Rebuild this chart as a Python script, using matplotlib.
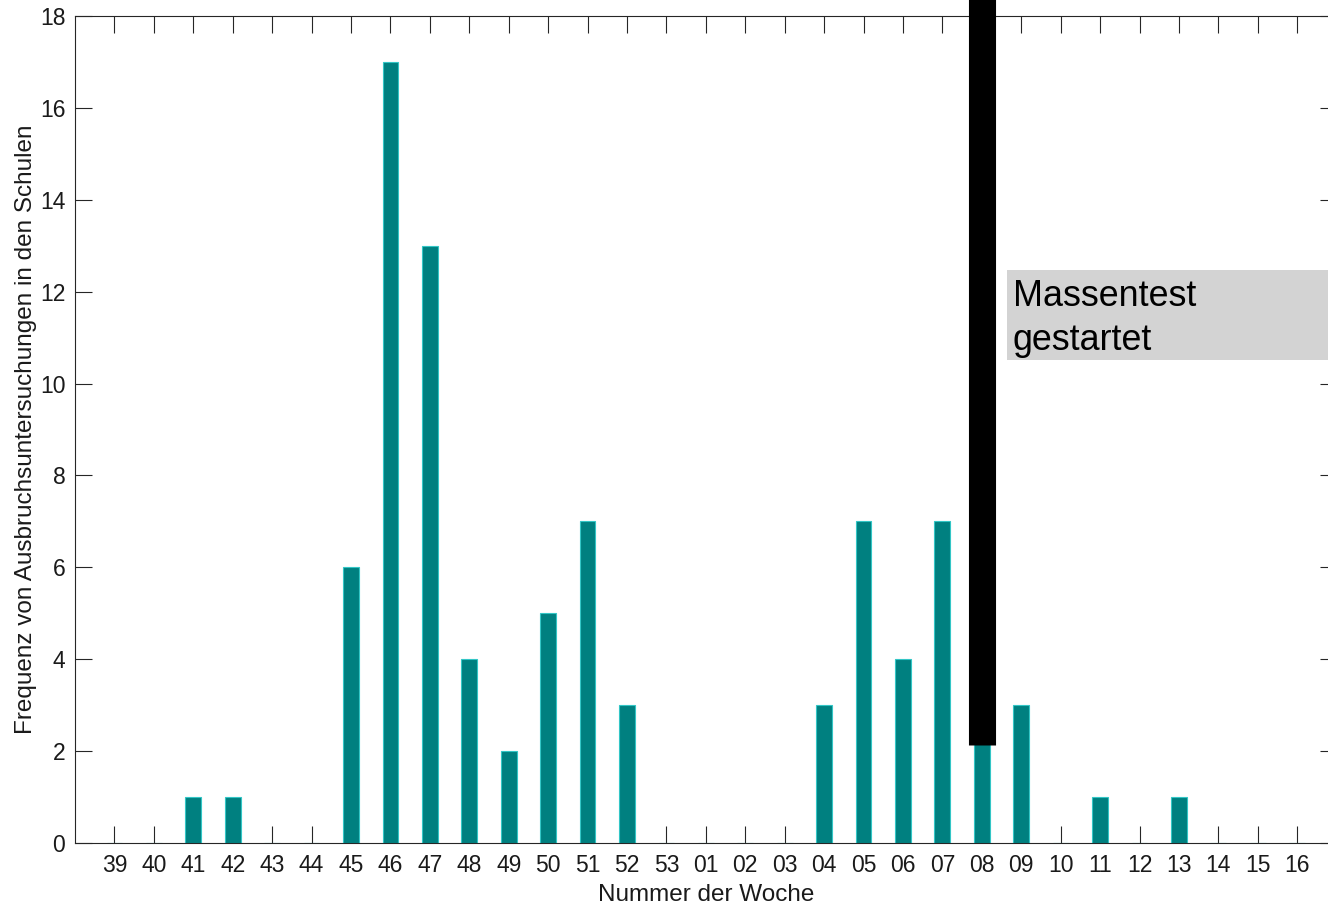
import numpy as np
import matplotlib
matplotlib.use("Agg")
import matplotlib.pyplot as plt
from matplotlib.patches import Rectangle

plt.rcParams['font.family'] = ['Liberation Sans', 'DejaVu Sans']

# Daten
wochen = ['39', '40', '41', '42', '43', '44', '45', '46', '47', '48', '49', '50',
          '51', '52', '53', '01', '02', '03', '04', '05', '06', '07', '08', '09',
          '10', '11', '12', '13', '14', '15', '16']
frequenz = [0, 0, 1, 1, 0, 0, 6, 17, 13, 4, 2, 5, 7, 3, 0, 0, 0, 0, 3, 7, 4, 7,
            3, 3, 0, 1, 0, 1, 0, 0, 0]
start_woche = '08'
start_unten = 2.13

fig = plt.figure(figsize=(13.28, 9.08), dpi=100)
ax = fig.add_axes([0.0565, 0.0716, 0.95, 0.9108])

x = np.arange(len(wochen))
ax.bar(x, frequenz, width=0.4, color='#008080', edgecolor='#33c6c6', linewidth=0.8, zorder=2)

ax.set_xlim(-1, len(wochen))
ax.set_ylim(0, 18)
ax.set_xticks(x)
ax.set_xticklabels(wochen)
ax.set_yticks(np.arange(0, 19, 2))

achsenfarbe = '#262626'
for s in ax.spines.values():
    s.set_color(achsenfarbe)
    s.set_linewidth(0.8)
ax.tick_params(direction='in', length=12, width=0.8, color=achsenfarbe,
               top=True, right=True, labelsize=16.5, labelcolor='#1a1a1a')
ax.tick_params(axis='x', pad=8)
ax.tick_params(axis='y', pad=7)

ax.set_xlabel('Nummer der Woche', fontsize=17.5, color='#1a1a1a', labelpad=5)
ax.set_ylabel('Frequenz von Ausbruchsuntersuchungen in den Schulen', fontsize=17.5,
              color='#1a1a1a', labelpad=2)

# Massentest-Linie
xs = wochen.index(start_woche)
ax.plot([xs, xs], [start_unten, 19.5], color='black', linewidth=19.5,
        solid_capstyle='butt', clip_on=False, zorder=3)

# Textfeld
ax.add_patch(Rectangle((xs + 0.65, 10.51), 10, 1.96, facecolor='#d3d3d3',
                       edgecolor='none', clip_on=False, zorder=3))
ax.text(xs + 0.78, 11.42, 'Massentest\ngestartet', fontsize=25.8, va='center',
        ha='left', linespacing=1.32, zorder=4)

fig.savefig('out.png', dpi=100)
